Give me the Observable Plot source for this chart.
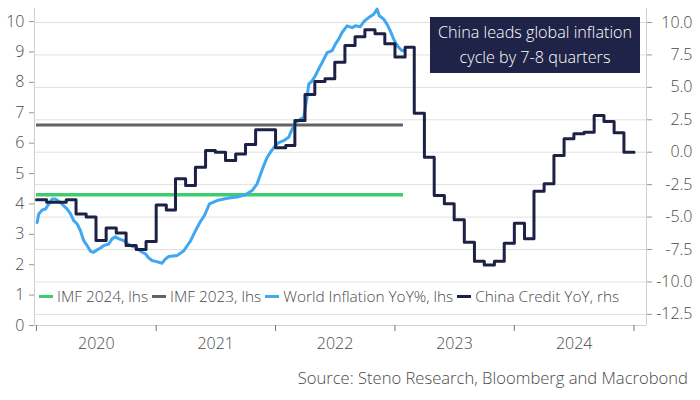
<!DOCTYPE html>
<html>
<head>
<meta charset="utf-8">
<script src="https://cdn.jsdelivr.net/npm/d3@7"></script>
<script src="https://cdn.jsdelivr.net/npm/@observablehq/plot@0.6"></script>
<style>
  body { margin: 0; background: #fff; font-family: "Open Sans", "Noto Sans", sans-serif; font-weight: 300; }
  #wrap { position: relative; width: 700px; height: 400px; overflow: hidden; }
  #chart svg { display: block; }
  #title {
    position: absolute; left: 430px; top: 17px; width: 210px; height: 56px;
    background: #1e2347; color: #fff; font-size: 16.2px; line-height: 25px;
    text-align: center; padding-top: 3px; box-sizing: border-box; white-space: nowrap;
  }
  #legend {
    position: absolute; left: 39px; top: 286px; display: flex; align-items: center;
    font-size: 15.4px; color: #4a4a4a; white-space: nowrap;
  }
  #legend .item { display: flex; align-items: center; margin-right: 4px; }
  #legend .sw { display: inline-block; width: 14px; height: 3.5px; margin-right: 4px; }
  #source {
    position: absolute; right: 12px; top: 366px; font-size: 16.6px; color: #4a4a4a; white-space: nowrap;
  }
</style>
</head>
<body>
<div id="wrap">
  <div id="chart"></div>
  <div id="title">China leads global inflation<br>cycle by 7-8 quarters</div>
  <div id="legend"></div>
  <div id="source">Source: Steno Research, Bloomberg and Macrobond</div>
</div>
<script>
// ---------- data ----------
const yearLabels = [2020, 2021, 2022, 2023, 2024];
const leftTicks = [0, 1, 2, 3, 4, 5, 6, 7, 8, 9, 10];
const rightTicks = [-12.5, -10, -7.5, -5, -2.5, 0, 2.5, 5, 7.5, 10];

const seriesNames = ["IMF 2024, lhs", "IMF 2023, lhs", "World Inflation YoY%, lhs", "China Credit YoY, rhs"];
const seriesColors = ["#3dcc6e", "#636363", "#40a8f0", "#1c2145"];

// IMF forecasts (lhs), flat lines
const imf2024 = 4.3;
const imf2023 = 6.6;
const imfStart = "2020-01-01";
const imfEnd = "2023-01-27";

// World inflation YoY% (lhs): time as decimal year, value
const inflationT = [2020.006, 2020.019, 2020.048, 2020.075, 2020.103, 2020.131, 2020.159, 2020.201, 2020.228, 2020.257,
  2020.285, 2020.312, 2020.341, 2020.368, 2020.396, 2020.424, 2020.452, 2020.479, 2020.508, 2020.536,
  2020.563, 2020.605, 2020.633, 2020.661, 2020.689, 2020.731, 2020.759, 2020.787, 2020.828, 2020.856,
  2020.885, 2020.912, 2020.940, 2020.968, 2020.996, 2021.023, 2021.052, 2021.079, 2021.107, 2021.177,
  2021.233, 2021.289, 2021.331, 2021.372, 2021.406, 2021.448, 2021.512, 2021.567, 2021.623, 2021.679,
  2021.749, 2021.805, 2021.847, 2021.874, 2021.902, 2021.931, 2021.958, 2022.000, 2022.028, 2022.069,
  2022.111, 2022.140, 2022.167, 2022.209, 2022.237, 2022.265, 2022.279, 2022.307, 2022.335, 2022.362,
  2022.391, 2022.433, 2022.474, 2022.502, 2022.530, 2022.558, 2022.600, 2022.642, 2022.669, 2022.711,
  2022.745, 2022.781, 2022.823, 2022.851, 2022.870, 2022.906, 2022.935, 2022.962, 2022.985, 2023.004,
  2023.032, 2023.060, 2023.079];
const inflationV = [3.39, 3.67, 3.80, 3.83, 4.00, 4.16, 4.16, 4.05, 3.94, 3.83,
  3.67, 3.45, 3.34, 3.12, 2.79, 2.63, 2.44, 2.41, 2.49, 2.55,
  2.63, 2.68, 2.85, 2.92, 2.85, 2.79, 2.70, 2.63, 2.57, 2.49,
  2.41, 2.36, 2.22, 2.14, 2.11, 2.08, 2.05, 2.19, 2.27, 2.30,
  2.46, 2.78, 3.12, 3.42, 3.62, 4.00, 4.11, 4.16, 4.20, 4.23,
  4.30, 4.44, 4.66, 4.96, 5.26, 5.53, 5.70, 5.92, 6.02, 6.08,
  6.19, 6.46, 6.66, 6.79, 6.85, 7.50, 7.94, 8.05, 8.22, 8.44,
  8.65, 8.98, 9.04, 9.26, 9.42, 9.64, 9.86, 9.80, 9.86, 9.83,
  10.02, 10.13, 10.24, 10.41, 10.19, 10.08, 9.91, 9.69, 9.47, 9.31,
  9.15, 9.04, 9.06];

// China credit YoY (rhs), monthly from Jan 2020 to Dec 2024
const creditStartYear = 2020;
const creditV = [
  -3.67, -3.86, -3.86, -3.67, -4.76, -5.00, -6.81, -5.84, -6.23, -7.19, -7.50, -6.88,
  -4.07, -4.46, -2.05, -2.57, -1.16, 0.13, 0.00, -0.64, -0.13, 0.59, 1.73, 1.73,
  0.34, 0.52, 2.44, 4.45, 5.45, 5.66, 6.94, 8.23, 8.90, 9.44, 9.13, 8.36,
  7.35, 8.10, 3.00, -0.39, -3.34, -3.98, -5.21, -6.94, -8.40, -8.70, -8.40, -7.02,
  -5.47, -6.68, -3.00, -2.44, -0.25, 1.03, 1.42, 1.54, 2.83, 2.37, 1.50, 0.00
];

// ---------- scales ----------
const lhsDomain = [0, 10.43];
const rhsDomain = [-13.36, 11.08];
const rhsToLhs = r => lhsDomain[0] + (r - rhsDomain[0]) / (rhsDomain[1] - rhsDomain[0]) * (lhsDomain[1] - lhsDomain[0]);
const lhsToRhs = l => rhsDomain[0] + (l - lhsDomain[0]) / (lhsDomain[1] - lhsDomain[0]) * (rhsDomain[1] - rhsDomain[0]);

const decYear = t => new Date(Date.UTC(2020, 0, 1) + (t - 2020) * 365.25 * 864e5);
const inflation = inflationT.map((t, i) => ({date: decYear(t), v: inflationV[i]}));
const credit = creditV.map((v, i) => ({date: new Date(Date.UTC(creditStartYear, i, 1)), v}));
credit.push({date: new Date(Date.UTC(creditStartYear, creditV.length, 1)), v: creditV[creditV.length - 1]});

const xDomain = [new Date(Date.UTC(2019, 11, 26)), new Date(Date.UTC(2025, 1, 8))];
const yearStarts = yearLabels.concat([yearLabels[yearLabels.length - 1] + 1]).map(y => new Date(Date.UTC(y, 0, 1)));
const yearMids = yearLabels.map(y => new Date(Date.UTC(y, 6, 2)));

const textColor = "#4a4a4a";
const axisColor = "#cfcfcf";

const chart = Plot.plot({
  width: 700,
  height: 360,
  marginTop: 8,
  marginBottom: 35,
  marginLeft: 34,
  marginRight: 54,
  style: {fontFamily: '"Open Sans", "Noto Sans", sans-serif', fontSize: "15.5px", fontWeight: 300, color: textColor, background: "#fff"},
  x: {type: "utc", domain: xDomain},
  y: {domain: lhsDomain},
  marks: [
    Plot.ruleY(rightTicks.map(rhsToLhs), {stroke: "#e0e0e0", strokeWidth: 1}),
    Plot.ruleY([lhsDomain[0]], {stroke: axisColor}),
    Plot.ruleX([xDomain[0], xDomain[1]], {stroke: axisColor}),
    Plot.axisY(leftTicks, {anchor: "left", tickSize: 5, tickPadding: 5, stroke: "#999", fill: textColor, label: null, fontSize: 16}),
    Plot.axisY(rightTicks.map(rhsToLhs), {
      anchor: "right", tickSize: 5, tickPadding: 41, textAnchor: "end", stroke: "#999", fill: textColor, label: null, fontSize: 16,
      tickFormat: d => (Math.round(lhsToRhs(d) * 10) / 10).toFixed(1)
    }),
    Plot.axisX(yearStarts, {tickSize: 6, stroke: "#777", tickFormat: () => "", label: null}),
    Plot.axisX(yearMids, {tickSize: 0, tickPadding: 12, fill: textColor, label: null, fontSize: 16, tickFormat: d => String(d.getUTCFullYear())}),
    Plot.ruleY([imf2024], {x1: new Date(imfStart), x2: new Date(imfEnd), stroke: seriesColors[0], strokeWidth: 3.5}),
    Plot.ruleY([imf2023], {x1: new Date(imfStart), x2: new Date(imfEnd), stroke: seriesColors[1], strokeWidth: 3}),
    Plot.line(inflation, {x: "date", y: "v", stroke: seriesColors[2], strokeWidth: 3, strokeLinejoin: "round"}),
    Plot.line(credit, {x: "date", y: d => rhsToLhs(d.v), curve: "step-after", stroke: seriesColors[3], strokeWidth: 3})
  ]
});
document.getElementById("chart").appendChild(chart);

const legend = document.getElementById("legend");
seriesNames.forEach((name, i) => {
  const item = document.createElement("span");
  item.className = "item";
  const sw = document.createElement("span");
  sw.className = "sw";
  sw.style.background = seriesColors[i];
  item.appendChild(sw);
  item.appendChild(document.createTextNode(name));
  legend.appendChild(item);
});
</script>
</body>
</html>
